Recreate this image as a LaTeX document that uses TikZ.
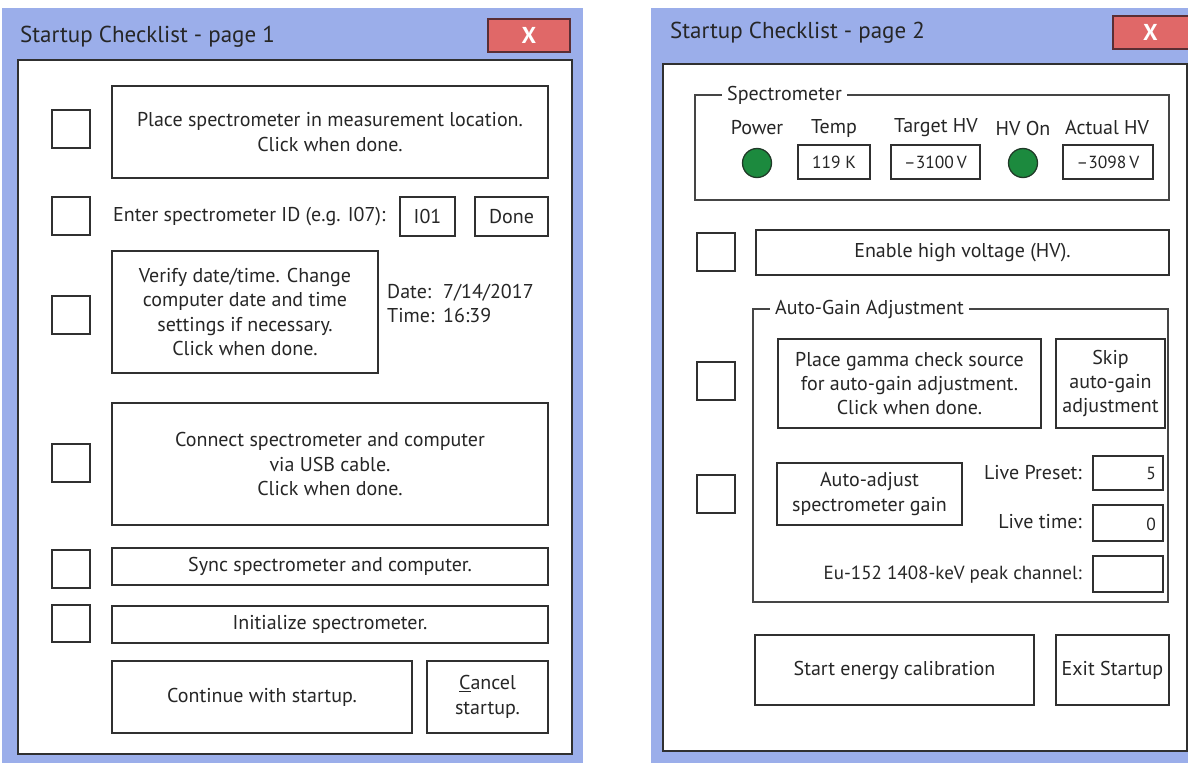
\documentclass[tikz,border=0pt]{standalone}
\usepackage{fontspec}
\setmainfont{PT Sans}
\definecolor{winblue}{HTML}{9BAEEA}
\definecolor{closered}{HTML}{E06868}
\definecolor{closeedge}{HTML}{5A2E34}
\definecolor{ledgreen}{HTML}{1C8A3E}
\definecolor{ledrim}{HTML}{203A28}
\definecolor{ink}{HTML}{303030}
\newcommand\uifont{\fontsize{20}{24.3}\selectfont}
\newcommand\uititlefont{\fontsize{23}{26}\selectfont}
\newcommand\uivalfont{\fontsize{17.5}{20}\selectfont}
\tikzset{
  winframe/.style={fill=winblue},
  panel/.style={draw=ink, line width=2pt, fill=white},
  wintitle/.style={anchor=west, inner sep=0pt, text=black!85, font=\uititlefont},
  closebtn/.style={draw=closeedge, line width=1.6pt, fill=closered, text=white, font=\uititlefont\bfseries},
  btn/.style={draw=ink, line width=1.7pt, fill=white, inner sep=0pt, align=center, text=black!85, font=\uifont},
  chk/.style={btn},
  valbox/.style={btn, font=\uivalfont},
  lbl/.style={inner sep=0pt, text=black!85, font=\uifont},
  grp/.style={draw=ink!90, line width=1.5pt},
  grplbl/.style={fill=white, inner xsep=5pt, inner ysep=1pt, text=black!85, font=\uifont},
  led/.style={circle, draw=ledrim, line width=1.3pt, fill=ledgreen, minimum size=29pt, inner sep=0pt}
}
% a box node given by its corners: [style]{name}{x1}{y1}{x2}{y2}{text}
\newcommand\uibox[7][]{%
  \node[btn,#1,minimum width={(#5-#3)*1pt},minimum height={(#6-#4)*1pt}]
    (#2) at ({(#3+#5)/2},{(#4+#6)/2}) {#7};}
\begin{document}
\begin{tikzpicture}[x=1pt,y=-1pt]
\useasboundingbox (0,0) rectangle (1188,763);
\clip (0,0) rectangle (1188,763);

% ---------- page 1 ----------
\fill[winframe] (2,8) rectangle (583,763);
\node[wintitle] (title1) at (20,37) {Startup Checklist - page 1};
\uibox[closebtn]{close1}{488}{19}{570}{52}{X}
\draw[panel] (18,60) rectangle (572,754);

\uibox[chk]{c11}{52}{110}{90}{148}{}
\uibox{place}{112}{86}{548}{178}{Place spectrometer in measurement location.\\Click when done.}

\uibox[chk]{c12}{52}{197}{90}{235}{}
\node[lbl, anchor=west] (idlbl) at (113,217) {Enter spectrometer ID (e.g. I07):};
\uibox{idval}{400}{197}{455}{236}{I01}
\uibox{iddone}{475}{197}{548}{236}{Done}

\uibox[chk]{c13}{52}{296}{90}{334}{}
\uibox{verify}{112}{251}{378}{373}{Verify date/time. Change\\computer date and time\\settings if necessary.\\Click when done.}
\node[lbl, anchor=north west, align=left] (clock) at (387,284)
  {\makebox[56pt][l]{Date:}7/14/2017\\\makebox[56pt][l]{Time:}16:39};

\uibox[chk]{c14}{52}{444}{90}{482}{}
\uibox{usb}{112}{403}{548}{525}{Connect spectrometer and computer\\via USB cable.\\Click when done.}

\uibox[chk]{c15}{52}{550}{90}{588}{}
\uibox{sync}{112}{548}{548}{585}{Sync spectrometer and computer.}

\uibox[chk]{c16}{52}{605}{90}{642}{}
\uibox{init}{112}{606}{548}{643}{Initialize spectrometer.}

\uibox{cont}{112}{661}{412}{733}{Continue with startup.}
\uibox{cancel}{427}{661}{548}{733}{\underline{C}ancel\\startup.}

% ---------- page 2 ----------
\fill[winframe] (651,8) rectangle (1192,763);
\node[wintitle] (title2) at (670,33) {Startup Checklist - page 2};
\uibox[closebtn]{close2}{1113}{16}{1192}{49}{\hspace*{-4pt}X}
\draw[panel] (663,64) rectangle (1187,751);

% spectrometer status group
\draw[grp] (695,95) rectangle (1169,200);
\node[grplbl, anchor=west] (spec) at (722,95) {Spectrometer};
\node[lbl] (hpow) at (757,128) {Power};
\node[lbl] (htemp) at (834,128) {Temp};
\node[lbl] (htgt) at (936,128) {Target HV};
\node[lbl] (hon) at (1023,128) {HV On};
\node[lbl] (hact) at (1107,128) {Actual HV};
\node[led] (ledpow) at (757,163) {};
\uibox[valbox]{temp}{798}{145}{870}{179}{119 K}
\uibox[valbox]{tgt}{891}{145}{980}{179}{--3100\,V}
\node[led] (ledhv) at (1023,163) {};
\uibox[valbox]{act}{1063}{145}{1153}{179}{--3098\,V}

\uibox[chk]{c21}{697}{233}{735}{271}{}
\uibox{enable}{756}{230}{1169}{275}{Enable high voltage (HV).}

% auto-gain group
\draw[grp] (753,309) rectangle (1168,602);
\node[grplbl, anchor=west] (agc) at (770,309) {Auto-Gain Adjustment};

\uibox[chk]{c22}{697}{362}{735}{400}{}
\uibox{gamma}{778}{339}{1041}{428}{Place gamma check source\\for auto-gain adjustment.\\Click when done.}
\uibox{skip}{1056}{339}{1165}{428}{Skip\\auto-gain\\adjustment}

\uibox[chk]{c23}{697}{475}{735}{513}{}
\uibox{autoadj}{777}{463}{962}{525}{Auto-adjust\\spectrometer gain}

\node[lbl, anchor=east] (lpl) at (1082,473) {Live Preset:};
\uibox[valbox]{lpv}{1093}{456}{1163}{490}{}
\node[lbl, font=\uivalfont, anchor=east] (lpn) at (1156,473) {5};
\node[lbl, anchor=east] (ltl) at (1082,522) {Live time:};
\uibox[valbox, line width=2.4pt]{ltv}{1093}{505}{1163}{541}{}
\node[lbl, font=\uivalfont, anchor=east] (ltn) at (1156,524) {0};
\node[lbl, anchor=east, font=\fontsize{19}{22}\selectfont] (eul) at (1082,575) {Eu-152 1408-keV peak channel:};
\uibox[valbox]{euv}{1093}{556}{1163}{592}{}

\uibox{calib}{755}{635}{1034}{705}{Start energy calibration}
\uibox{exit}{1056}{635}{1169}{705}{Exit Startup}
\end{tikzpicture}
\end{document}
